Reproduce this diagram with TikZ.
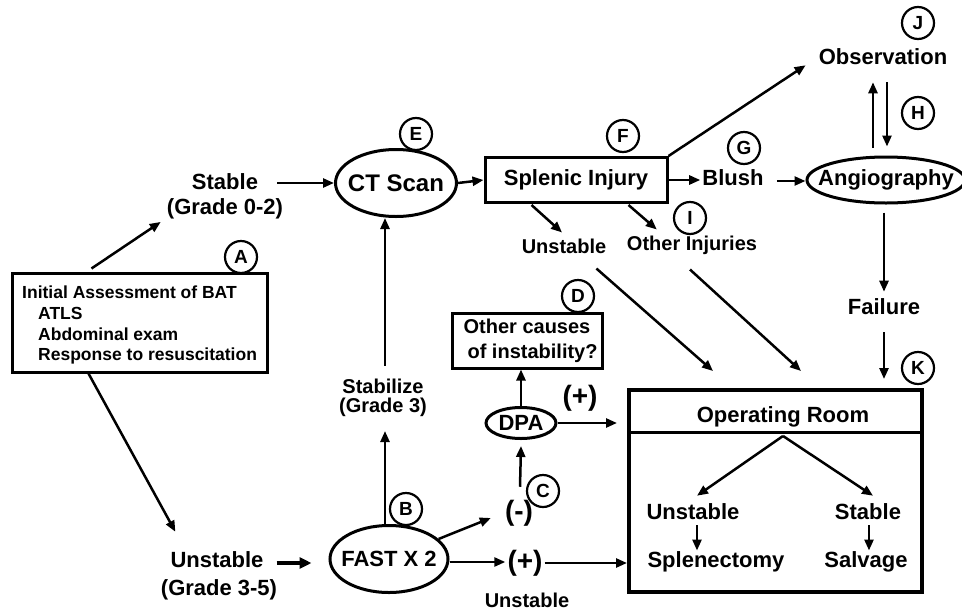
\documentclass[tikz,border=0pt]{standalone}
\usepackage{fontspec}
\setmainfont{Liberation Sans}
\usetikzlibrary{arrows.meta,shapes.geometric,calc}
\begin{document}
\begin{tikzpicture}[x=1pt,y=-1pt,
  big/.style={font=\fontsize{22}{25}\selectfont\bfseries, inner sep=0pt, align=center},
  mid/.style={font=\fontsize{20}{22}\selectfont\bfseries, inner sep=0pt, align=center},
  sml/.style={font=\fontsize{17.5}{20}\selectfont\bfseries, inner sep=0pt},
  sign/.style={font=\fontsize{28}{28}\selectfont\bfseries, inner sep=0pt},
  letter/.style={circle, draw, line width=2.2pt, minimum size=32pt, inner sep=0pt, font=\fontsize{19}{19}\selectfont\bfseries},
  arr/.style={line width=2.5pt, -{Triangle[length=11pt,width=9pt]}},
  thickarr/.style={line width=3.8pt, -{Triangle[length=12pt,width=11pt]}},
  box/.style={draw, line width=3pt, inner sep=0pt},
  oval/.style={ellipse, draw, line width=3pt, inner sep=0pt},
]
\useasboundingbox (0,0) rectangle (962,611);

% ---- nodes ----
\node[box, minimum width=255pt, minimum height=99pt] (A) at (139.5,322.5) {};
\node[sml, anchor=base west] (A1) at (22,298) {Initial Assessment of BAT};
\node[sml, anchor=base west] (A2) at (38,319) {ATLS};
\node[sml, anchor=base west] (A3) at (38,340) {Abdominal exam};
\node[sml, anchor=base west] (A4) at (38,360) {Response to resuscitation};
\node[letter] (LA) at (241,257) {A};

\node[big] (stab) at (225,196) {Stable\\(Grade 0-2)};

\node[oval, minimum width=121pt, minimum height=67pt] (ct) at (396,183) {};
\node[big, font=\fontsize{24}{25}\selectfont\bfseries] (ctt) at (ct) {CT Scan};
\node[letter] (LE) at (416,134) {E};

\node[box, minimum width=182pt, minimum height=45pt] (spl) at (576,180) {};
\node[big] (splt) at (spl) {Splenic Injury};
\node[letter] (LF) at (623,136) {F};

\node[mid] (uns1) at (564,246) {Unstable};
\node[mid] (oth) at (692,245) {Other Injuries};
\node[letter] (LI) at (690,218) {I};

\node[big] (obs) at (883,57) {Observation};
\node[letter] (LJ) at (918,23) {J};

\node[big] (blush) at (733,178) {Blush};
\node[letter] (LG) at (744,148) {G};

\node[oval, minimum width=158pt, minimum height=46pt] (ang) at (886,180) {};
\node[big] (angt) at (ang) {Angiography};
\node[letter] (LH) at (918,113) {H};

\node[big] (fail) at (884,307) {Failure};
\node[letter] (LK) at (918,368) {K};

\node[draw, line width=4pt, minimum width=293pt, minimum height=202pt] (or) at (775.5,491) {};
\node[big] (ort) at (783,417) {Operating Room};
\coordinate (orsp) at (783,436);
\node[big] (orU) at (693,512) {Unstable};
\node[big] (orS) at (868,512) {Stable};
\node[big] (splen) at (716,562) {Splenectomy};
\node[big] (salv) at (866,562) {Salvage};

\node[big] (uns2) at (217,560) {Unstable};
\node[big] (g35) at (219,590) {(Grade 3-5)};

\node[oval, minimum width=118pt, minimum height=67pt] (fast) at (389,559) {};
\node[big] (fastt) at (fast) {FAST X 2};
\node[letter] (LB) at (406,509) {B};

\node[mid] (stz) at (383,398) {Stabilize\\[-3pt](Grade 3)};

\node[oval, minimum width=70pt, minimum height=31pt] (dpa) at (521,423) {};
\node[big] (dpat) at (dpa) {DPA};

\node[box, minimum width=150pt, minimum height=55pt] (oc) at (527,340.5) {};
\node[font=\fontsize{20}{25}\selectfont\bfseries, inner sep=0pt, align=center] (oct) at (oc) {Other causes\\\ \ of instability?};
\node[letter] (LD) at (578,296) {D};

\node[sign] (neg) at (519,513) {(-)};
\node[letter] (LC) at (543,491) {C};
\node[sign] (pos1) at (580,398) {(+)};
\node[sign] (pos2) at (525,563) {(+)};
\node[mid] (uns3) at (527,600) {Unstable};

% ---- connectors ----
\draw[arr] ($(A.north west)+(81,-3)$) -- ($(stab.south west)+(-6,3)$);
\draw[arr] ($(stab.east |- ct.west)+(-6,0)$) -- (ct.west);
\draw[arr] (ct.east) -- (spl.west);
\draw[arr] ($(spl.south west)+(48,1)$) -- ($(uns1.north)+(-2,-6)$);
\draw[arr] ($(spl.south west)+(145,1)$) -- ($(oth.north west)+(30,-6)$);
\draw[arr] (spl.north east) -- ($(obs.south west)+(-13,0)$);
\draw[arr] (spl.east) -- ($(spl.east -| blush.west)+(-2,0)$);
\draw[arr] ($(blush.east)+(13,3)$) -- ($(blush.east -| ang.west)+(0,3)$);
\draw[arr] ($(ang.north)+(-13,-8)$) -- ($(obs.south)+(-10,17)$);
\draw[arr] ($(obs.south)+(4,17)$) -- ($(ang.north)+(1,-9)$);
\draw[arr] ($(ang.south)+(-2,8)$) -- ($(fail.north)+(0,-7)$);
\draw[arr] ($(fail.south)+(0,17)$) -- ($(fail.south |- or.north)+(0,-9)$);
\draw[arr] ($(uns1.south east)+(-10,15)$) -- ($(or.north west)+(86,-17)$);
\draw[arr] ($(oth.south)+(-2,15)$) -- ($(or.north west)+(174,-17)$);
\draw[arr] ($(A.south west)+(78,0)$) -- ($(uns2.north west)+(5,-20)$);
\draw[thickarr] ($(uns2.east)+(13,3)$) -- ($(fast.west)+(-17,4)$);
\draw[arr] ($(fast.north)+(-4,0)$) -- ($(stz.south)+(2,14)$);
\draw[arr] ($(stz.north)+(2,-13)$) -- ($(ct.south)+(-11,0)$);
\draw[arr] (fast.22) -- ($(neg.west)+(-14,5)$);
\draw[arr] ($(neg.north)+(1,-13)$) -- ($(dpa.south)+(0,6)$);
\draw[arr] (dpa.north) -- (dpa.north |- oc.south);
\draw[arr] (dpa.east) -- ($(dpa.east -| or.west)+(-10,0)$);
\draw[arr] ($(fast.east)+(0,3)$) -- ($(fast.east -| pos2.west)+(-2,3)$);
\draw[arr] ($(pos2.east)+(2,0)$) -- (pos2.east -| or.west);
\draw[arr] (orsp) -- ($(orU.north)+(4,-8)$);
\draw[arr] (orsp) -- ($(orS.north)+(5,-8)$);
\draw[arr] ($(orU.south)+(4,5)$) -- ($(orU.south |- splen.north)+(4,-1)$);
\draw[arr] ($(orS.south)+(1,5)$) -- ($(orS.south |- salv.north)+(1,-1)$);
\draw[line width=3pt] ($(or.north west)+(0,44)$) -- ($(or.north east)+(0,44)$);
\end{tikzpicture}
\end{document}
